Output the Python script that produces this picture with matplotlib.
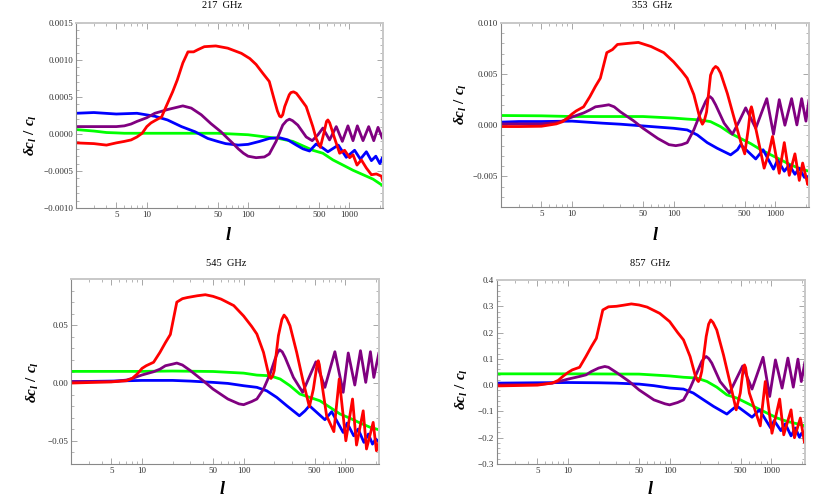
import matplotlib
matplotlib.use("Agg")
import matplotlib.pyplot as plt
from matplotlib.ticker import FixedLocator, NullFormatter, MultipleLocator

plt.rcParams['mathtext.fontset'] = 'custom'
plt.rcParams['mathtext.it'] = 'Liberation Serif:italic:bold'
plt.rcParams['mathtext.rm'] = 'Liberation Serif:bold'

# ---- 217 GHz ----
l_217_red = [2, 3, 4, 5, 6, 7, 8, 9, 10, 11, 12, 14, 15.5, 18, 20, 22.7, 25.5, 29, 32, 37, 48, 63, 86, 104,
             120, 140, 162, 180, 195, 205, 212, 220, 230, 255, 265, 281, 300, 320, 375, 436, 470, 517, 560, 595,
             614, 640, 716, 802, 898, 1007, 1087, 1190, 1314, 1473, 1652, 1851, 2075, 2150]
dc_217_red = [-0.00012, -0.00013, -0.00015, -0.00012, -0.0001, -0.00008, -0.00004, 0.00001, 0.0001, 0.00015,
              0.00018, 0.00023, 0.00037, 0.00057, 0.00073, 0.00096, 0.00111, 0.00111, 0.00114, 0.00118, 0.00119,
              0.00116, 0.00109, 0.00102, 0.00094, 0.00082, 0.00071, 0.00048, 0.00031, 0.00024, 0.00023, 0.00026,
              0.00037, 0.00053, 0.00056, 0.00057, 0.00055, 0.0005, 0.00037, 0.0001, -0.00006, -0.00018, 0.00001,
              0.00017, 0.00019, 0.00015, -0.00006, -0.00026, -0.00022, -0.00032, -0.00028, -0.00042, -0.00035,
              -0.00046, -0.00055, -0.00054, -0.00057, -0.00064]
l_217_pur = [2, 5, 6, 7, 8, 10, 12, 16, 22.7, 27.5, 34.5, 43, 54, 63, 70, 80, 90, 100, 120, 145, 162, 189, 220,
             240, 256, 275, 310, 375, 430, 490, 548, 638, 743, 853, 969, 1087, 1200, 1365, 1553, 1742, 1920, 2125,
             2150]
dc_217_pur = [0.0001, 0.0001, 0.00011, 0.000135, 0.00017, 0.00022, 0.00028, 0.00033, 0.00038, 0.00035, 0.00026,
              0.00014, 0.00003, -0.00006, -0.00012, -0.0002, -0.00026, -0.0003, -0.00032, -0.00031, -0.00027,
              -0.0001, 0.00012, 0.00018, 0.0002, 0.00018, 0.00012, -0.00004, -0.00009, -0.00001, 0.00008,
              -0.00008, 0.0001, -0.0001, 0.00011, -0.00009, 0.00011, -0.00009, 0.0001, -0.00009, 0.00009,
              -0.00006, 0.00001]
l_217_blu = [2, 3, 5, 8, 12, 16, 22, 30, 40, 50, 60, 80, 100, 130, 162, 204, 247, 300, 348, 405, 470, 548,
             614, 778, 932, 1127, 1285, 1473, 1652, 1826, 2002, 2125, 2150]
dc_217_blu = [0.00028, 0.00029, 0.00027, 0.00028, 0.00024, 0.00019, 0.0001, 0.00003, -0.00006, -0.0001,
              -0.00013, -0.00015, -0.00014, -0.0001, -0.00006, -0.00005, -0.00008, -0.00015, -0.0002, -0.00023,
              -0.000135, -0.00019, -0.00024, -0.00015, -0.000315, -0.00022, -0.00034, -0.00024, -0.00036, -0.0003,
              -0.0004, -0.00032, -0.00037]
l_217_grn = [2, 3, 4, 5, 6, 10, 20, 50, 100, 150, 200, 277, 348, 436, 548, 688, 866, 1087, 1365, 1714, 2150]
dc_217_grn = [0.00006, 0.00004, 0.00002, 0.000015, 0.00001, 0.00001, 0.00001, 0.00001, -0.00001, -0.00004,
              -0.00006, -0.0001, -0.00016, -0.00022, -0.00026, -0.00035, -0.00042, -0.00049, -0.00055, -0.00061,
              -0.0007]

# ---- 353 GHz ----
l_353_red = [2, 3, 5, 7, 8, 9, 10, 11, 13, 15, 17, 19, 22, 25, 28, 35, 45, 60, 80, 100, 120, 136, 158, 178, 186,
             192, 200, 211, 231, 245, 259, 272, 290, 338, 394, 457, 501, 544, 570, 583, 598, 643, 778, 872, 940,
             1014, 1096, 1228, 1375, 1563, 1726, 1862, 2090, 2150]
dc_353_red = [-0.00013, -0.00013, -0.0001, 0.00013, 0.00033, 0.0007, 0.0011, 0.0014, 0.0018, 0.0028, 0.0038,
              0.0046, 0.0071, 0.0074, 0.0079, 0.008, 0.0081, 0.0077, 0.0071, 0.0062, 0.0053, 0.0046, 0.003, 0.001,
              0.0004, 0.0001, 0.0004, 0.0013, 0.0049, 0.0055, 0.00575, 0.0056, 0.0051, 0.0031, 0.0007, -0.0016,
              -0.0028, -0.0003, 0.0015, 0.0018, 0.0014, -0.0003, -0.0042, -0.0026, -0.0011, -0.0029, -0.0047,
              -0.0017, -0.0049, -0.0028, -0.0054, -0.0037, -0.0058, -0.0052]
l_353_pur = [2, 5, 7, 8, 10, 13, 15, 17, 20, 23, 26, 30, 40, 50, 70, 90, 105, 120, 136, 158, 184, 206, 218, 228,
             240, 259, 314, 379, 440, 512, 643, 826, 962, 1096, 1245, 1449, 1634, 1820, 2005, 2150]
dc_353_pur = [0.00013, 0.00013, 0.00026, 0.0004, 0.0008, 0.0012, 0.0015, 0.0018, 0.0019, 0.002, 0.0018, 0.0013,
              0.00046, -0.0003, -0.0013, -0.0019, -0.002, -0.0019, -0.0017, -0.00046, 0.0012, 0.0023, 0.0027,
              0.0028, 0.0026, 0.002, 0.0002, -0.00088, 0.00035, 0.0017, -0.0003, 0.0026, -0.00088, 0.0025, 0.0,
              0.0026, 0.00003, 0.0026, 0.0004, 0.0025]
l_353_blu = [2, 3, 5, 10, 20, 30, 50, 100, 136, 171, 214, 268, 364, 425, 457, 643, 760, 962, 1054, 1228, 1375,
             1563, 1726, 1935, 2150]
dc_353_blu = [0.0003, 0.00036, 0.00036, 0.0004, 0.0002, 0.0001, -0.00007, -0.0003, -0.00046, -0.00095, -0.0017,
              -0.00225, -0.0029, -0.0024, -0.0019, -0.0033, -0.0024, -0.0043, -0.0034, -0.0045, -0.0039, -0.0048,
              -0.0042, -0.0051, -0.005]
l_353_grn = [2, 5, 10, 20, 50, 100, 136, 184, 231, 290, 364, 457, 574, 722, 907, 1141, 1437, 1807, 2150]
dc_353_grn = [0.00095, 0.00092, 0.00085, 0.00085, 0.00085, 0.0007, 0.0006, 0.00052, 0.00035, -0.00014, -0.0008,
              -0.0013, -0.0018, -0.0024, -0.0029, -0.0034, -0.0039, -0.0043, -0.0045]

# ---- 545 GHz ----
l_545_red = [2, 5, 7, 8, 9, 10, 11, 13, 15, 17, 19, 22, 25, 28, 35, 42, 50, 60, 80, 100, 120, 135, 157, 176, 181,
             186, 193, 200, 220, 238, 250, 265, 286, 333, 387, 444, 486, 530, 543, 556, 600, 656, 773, 873, 1014,
             1180, 1292, 1503, 1620, 1884, 2028, 2150]
dc_545_red = [0.0, 0.001, 0.002, 0.004, 0.008, 0.0127, 0.015, 0.018, 0.0265, 0.035, 0.042, 0.07, 0.073, 0.074,
              0.0755, 0.0764, 0.075, 0.0726, 0.067, 0.058, 0.049, 0.0424, 0.0265, 0.0078, 0.005, 0.004, 0.006,
              0.0107, 0.041, 0.055, 0.0588, 0.056, 0.0496, 0.0265, 0.0006, -0.0205, -0.0052, 0.017, 0.0193, 0.016,
              -0.0052, -0.0283, -0.042, 0.0035, -0.0499, -0.0138, -0.0536, -0.024, -0.057, -0.034, -0.0585, -0.051]
l_545_pur = [2, 5, 7, 8, 10, 13, 15, 17, 20, 22, 25, 30, 40, 50, 70, 90, 100, 120, 135, 157, 182, 204, 215, 226,
             240, 256, 309, 381, 448, 515, 631, 791, 955, 1071, 1242, 1413, 1592, 1770, 1912, 2150]
dc_545_pur = [0.0012, 0.0012, 0.0026, 0.004, 0.007, 0.0098, 0.012, 0.015, 0.0164, 0.0173, 0.0156, 0.0107, 0.002,
              -0.0052, -0.0138, -0.018, -0.0187, -0.016, -0.0138, -0.0052, 0.0078, 0.0208, 0.026, 0.0288, 0.027,
              0.0222, 0.0049, -0.008, 0.0063, 0.0184, -0.0037, 0.0271, -0.008, 0.026, -0.0017, 0.028, 0.0006,
              0.0271, 0.0049, 0.0265]
l_545_blu = [2, 5, 10, 20, 30, 50, 70, 100, 135, 169, 212, 266, 354, 402, 444, 631, 736, 955, 1044, 1213, 1340,
             1528, 1690, 1855, 1999, 2150]
dc_545_blu = [0.0012, 0.0017, 0.0023, 0.0023, 0.0017, 0.0006, -0.0003, -0.0023, -0.0037, -0.0067, -0.0124,
              -0.0196, -0.0283, -0.024, -0.0196, -0.0317, -0.0248, -0.0427, -0.0346, -0.0456, -0.0398, -0.0513,
              -0.0441, -0.0528, -0.0484, -0.051]
l_545_grn = [2, 10, 20, 50, 100, 135, 182, 229, 286, 358, 448, 563, 708, 890, 1120, 1405, 1764, 2150]
dc_545_grn = [0.0101, 0.0101, 0.0104, 0.01, 0.0086, 0.0069, 0.0063, 0.0035, -0.0023, -0.0095, -0.0124, -0.0153,
              -0.021, -0.0268, -0.0305, -0.0346, -0.0383, -0.0404]

# ---- 857 GHz ----
l_857_red = [2, 5, 7, 8, 9, 10, 11, 13, 15, 17, 19, 22, 25, 30, 35, 42, 50, 60, 80, 100, 120, 137, 159, 178, 186,
             192, 199, 207, 229, 242, 254, 268, 291, 339, 394, 452, 496, 533, 546, 560, 609, 780, 874, 1017, 1211,
             1328, 1567, 1693, 1936, 2125, 2150]
dc_857_red = [-0.003, 0.0, 0.008, 0.018, 0.035, 0.048, 0.058, 0.068, 0.109, 0.147, 0.178, 0.286, 0.298, 0.3, 0.304,
              0.309, 0.305, 0.297, 0.273, 0.242, 0.2, 0.172, 0.109, 0.039, 0.02, 0.0137, 0.025, 0.052, 0.185, 0.232,
              0.248, 0.238, 0.21, 0.115, 0.0076, -0.094, -0.03, 0.068, 0.077, 0.066, -0.03, -0.155, 0.0137, -0.183,
              -0.053, -0.189, -0.094, -0.2, -0.125, -0.218, -0.195]
l_857_pur = [2, 5, 7, 8, 10, 13, 15, 17, 20, 23, 25, 30, 40, 50, 70, 90, 100, 120, 137, 159, 185, 207, 218, 229,
             243, 260, 314, 388, 458, 524, 647, 831, 966, 1100, 1279, 1459, 1649, 1832, 1977, 2150]
dc_857_pur = [0.0013, 0.0025, 0.0076, 0.013, 0.023, 0.033, 0.039, 0.052, 0.065, 0.071, 0.068, 0.048, 0.014, -0.018,
              -0.056, -0.071, -0.075, -0.066, -0.056, -0.0114, 0.046, 0.09, 0.102, 0.109, 0.101, 0.084, 0.0137,
              -0.03, 0.027, 0.073, -0.015, 0.106, -0.043, 0.096, -0.0114, 0.103, -0.0076, 0.099, 0.0137, 0.09]
l_857_blu = [2, 5, 10, 20, 30, 50, 70, 100, 137, 171, 216, 271, 366, 409, 458, 647, 766, 989, 1069, 1244, 1375,
             1567, 1728, 1894, 1990, 2150]
dc_857_blu = [0.0076, 0.009, 0.01, 0.009, 0.0076, 0.004, -0.002, -0.011, -0.015, -0.03, -0.056, -0.081, -0.11,
              -0.094, -0.079, -0.122, -0.094, -0.163, -0.135, -0.173, -0.147, -0.193, -0.163, -0.198, -0.183,
              -0.195]
l_857_grn = [2, 10, 50, 100, 137, 185, 233, 291, 366, 458, 575, 722, 908, 1142, 1438, 1807, 2150]
dc_857_grn = [0.043, 0.043, 0.042, 0.035, 0.03, 0.027, 0.014, -0.0076, -0.037, -0.049, -0.068, -0.087, -0.106,
              -0.125, -0.138, -0.147, -0.155]

titles = ["217  GHz", "353  GHz", "545  GHz", "857  GHz"]
y_limits = [(-0.0010, 0.0015), (-0.008, 0.010), (-0.07, 0.09), (-0.3, 0.4)]
y_ticks = [[-0.0010, -0.0005, 0.0, 0.0005, 0.0010, 0.0015],
           [-0.005, 0.0, 0.005, 0.010],
           [-0.05, 0.0, 0.05],
           [-0.3, -0.2, -0.1, 0.0, 0.1, 0.2, 0.3, 0.4]]
y_fmt = ["{:.4f}", "{:.3f}", "{:.2f}", "{:.1f}"]
y_minor = [0.0001, 0.001, 0.01, 0.02]
x_ticks = [5, 10, 50, 100, 500, 1000]

series = [
    [(l_217_grn, dc_217_grn), (l_217_blu, dc_217_blu), (l_217_pur, dc_217_pur), (l_217_red, dc_217_red)],
    [(l_353_grn, dc_353_grn), (l_353_blu, dc_353_blu), (l_353_pur, dc_353_pur), (l_353_red, dc_353_red)],
    [(l_545_grn, dc_545_grn), (l_545_blu, dc_545_blu), (l_545_pur, dc_545_pur), (l_545_red, dc_545_red)],
    [(l_857_grn, dc_857_grn), (l_857_blu, dc_857_blu), (l_857_pur, dc_857_pur), (l_857_red, dc_857_red)],
]
colors = ['#00ff00', '#0000ff', '#800080', '#ff0000']

W, H = 830, 498
# frame boxes in pixels: left, top, right, bottom
boxes = [(76, 23, 383, 208), (501, 23, 809, 207), (71, 279, 379, 464), (497, 280, 805, 464)]
title_pos = [(222, 6), (652, 6), (226, 263), (650, 263)]
ylab_pos = [(31, 135), (461, 104), (33, 382), (462, 389)]
xlab_pos = [(228, 235), (655, 235), (222, 489), (650, 489)]

fig = plt.figure(figsize=(W / 100, H / 100), dpi=100)
minor_x = [m * d for d in (1, 10, 100, 1000) for m in range(2, 10) if m * d not in x_ticks and m * d <= 2000]

for i in range(4):
    l, t, r, b = boxes[i]
    ax = fig.add_axes([l / W, 1 - b / H, (r - l) / W, (b - t) / H])
    for (xs, ys), c in zip(series[i], colors):
        ax.plot(xs, ys, color=c, lw=2.0, solid_joinstyle='round', solid_capstyle='round')
    ax.set_xscale('log')
    ax.set_xlim(2, 2150)
    ax.set_ylim(*y_limits[i])
    ax.xaxis.set_major_locator(FixedLocator(x_ticks))
    ax.xaxis.set_minor_locator(FixedLocator(minor_x))
    ax.xaxis.set_minor_formatter(NullFormatter())
    ax.set_xticklabels([str(v) for v in x_ticks])
    ax.set_yticks(y_ticks[i])
    ax.set_yticklabels([y_fmt[i].format(v).replace('-', '\u2212') for v in y_ticks[i]])
    ax.yaxis.set_minor_locator(MultipleLocator(y_minor[i]))
    ax.tick_params(which='both', direction='in', top=True, right=True, color='#999999',
                   labelsize=6.5, labelcolor='#333333', pad=2)
    ax.tick_params(which='major', length=4, width=0.6)
    ax.tick_params(which='minor', length=2, width=0.5)
    for lab in ax.get_xticklabels() + ax.get_yticklabels():
        lab.set_family('Liberation Serif')
    for side in ('left', 'bottom'):
        ax.spines[side].set_color('#888888')
        ax.spines[side].set_linewidth(0.8)
    for side in ('top', 'right'):
        ax.spines[side].set_color('#c8c8c8')
        ax.spines[side].set_linewidth(1.4)

    tx, ty = title_pos[i]
    fig.text(tx / W, 1 - ty / H, titles[i], ha='center', va='center', fontsize=7.5,
             family='Liberation Serif')
    yx, yy = ylab_pos[i]
    fig.text(yx / W, 1 - yy / H, r'$\delta c_l\ /\ c_l$', ha='center', va='center',
             rotation=90, fontsize=11)
    xx, xy = xlab_pos[i]
    fig.text(xx / W, 1 - xy / H, r'$l$', ha='center', va='center', fontsize=13)

fig.savefig('out.png', dpi=100)
